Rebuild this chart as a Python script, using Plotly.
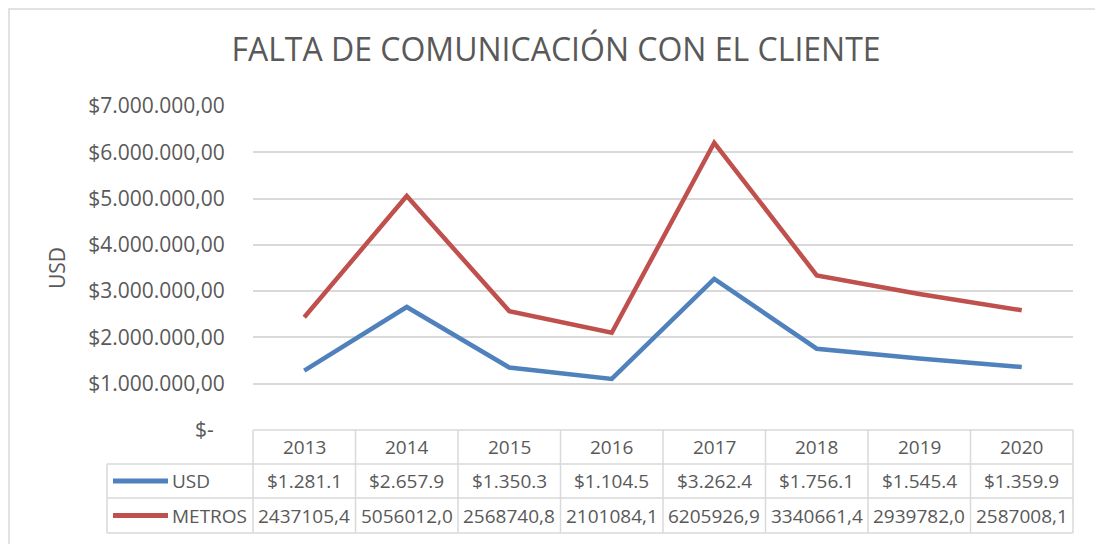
import plotly.graph_objects as go

# ---- data ----
years = ["2013", "2014", "2015", "2016", "2017", "2018", "2019", "2020"]
usd_thousands = [1281.1, 2657.9, 1350.3, 1104.5, 3262.4, 1756.1, 1545.4, 1359.9]
metros = [2437105.4, 5056012.0, 2568740.8, 2101084.1, 6205926.9, 3340661.4, 2939782.0, 2587008.1]
y_ticks = [0, 1e6, 2e6, 3e6, 4e6, 5e6, 6e6, 7e6]
y_tick_labels = ["$-\u00a0\u00a0", "$1.000.000,00", "$2.000.000,00", "$3.000.000,00",
                 "$4.000.000,00", "$5.000.000,00", "$6.000.000,00", "$7.000.000,00"]
series_names = ["USD", "METROS"]
title_text = "FALTA DE COMUNICACIÓN CON EL CLIENTE"
y_title = "USD"

usd_values = [v * 1000 for v in usd_thousands]
usd_labels = ["$" + f"{v:,.1f}".replace(",", ".") for v in usd_thousands]
metros_labels = [f"{v:.1f}".replace(".", ",") for v in metros]

# ---- layout geometry (screen pixels; page body has an 8px offset) ----
W, H = 1103, 544
OFF = 8
L, T = 253, 106          # plot area left / top on screen
PW, PH = 820, 324        # plot area size
BLUE = "#4F81BD"
RED = "#C0504D"
GRID = "#D9D9D9"
TXT = "#595959"
FONT = "Open Sans"

m_l = L - OFF
m_t = T - OFF
m_r = W - m_l - PW
m_b = H - m_t - PH


def px(x):
    return (x - L) / PW


def py(y):
    return (T + PH - y) / PH


fig = go.Figure()
fig.add_trace(go.Scatter(x=years, y=usd_values, mode="lines", name=series_names[0],
                         line=dict(color=BLUE, width=4.5), hoverinfo="skip"))
fig.add_trace(go.Scatter(x=years, y=metros, mode="lines", name=series_names[1],
                         line=dict(color=RED, width=4.5), hoverinfo="skip"))

shapes = []
annotations = []

# outer chart border (kept just inside the figure's drawable area)
shapes.append(dict(type="rect", xref="paper", yref="paper",
                   x0=px(OFF + 1), x1=px(1101), y0=py(570), y1=py(OFF + 1),
                   line=dict(color="#D9D9D9", width=1.5), fillcolor="rgba(0,0,0,0)", layer="below"))

# data table grid
n = len(years)
col_w = PW / n
row_y = [430, 464, 498, 533]
tbl_left = 107
tbl_right = L + PW
line_style = dict(color=GRID, width=1.5)
shapes.append(dict(type="line", xref="paper", yref="paper", x0=px(L), x1=px(tbl_right),
                   y0=py(row_y[0]), y1=py(row_y[0]), line=line_style))
for ry in row_y[1:]:
    shapes.append(dict(type="line", xref="paper", yref="paper", x0=px(tbl_left), x1=px(tbl_right),
                       y0=py(ry), y1=py(ry), line=line_style))
shapes.append(dict(type="line", xref="paper", yref="paper", x0=px(tbl_left), x1=px(tbl_left),
                   y0=py(row_y[1]), y1=py(row_y[3]), line=line_style))
for i in range(n + 1):
    xx = L + i * col_w
    shapes.append(dict(type="line", xref="paper", yref="paper", x0=px(xx), x1=px(xx),
                       y0=py(row_y[0]), y1=py(row_y[3]), line=line_style))

# legend keys in table
for k, (name, color) in enumerate(zip(series_names, [BLUE, RED])):
    yc = (row_y[k + 1] + row_y[k + 2]) / 2
    shapes.append(dict(type="line", xref="paper", yref="paper", x0=px(113), x1=px(168),
                       y0=py(yc), y1=py(yc), line=dict(color=color, width=5)))
    annotations.append(dict(text=name, xref="paper", yref="paper", x=px(170), y=py(yc),
                            xanchor="left", yanchor="middle", showarrow=False,
                            font=dict(family=FONT, size=19, color=TXT)))

# table texts
rows = [years, usd_labels, metros_labels]
for r, labels in enumerate(rows):
    yc = (row_y[r] + row_y[r + 1]) / 2
    for i, lab in enumerate(labels):
        xc = L + (i + 0.5) * col_w
        annotations.append(dict(text=lab, xref="paper", yref="paper", x=px(xc), y=py(yc),
                                xanchor="center", yanchor="middle", showarrow=False,
                                font=dict(family=FONT, size=19, color=TXT)))

# y axis title
annotations.append(dict(text=y_title, xref="paper", yref="paper", x=px(57), y=py(268),
                        xanchor="center", yanchor="middle", textangle=-90, showarrow=False,
                        font=dict(family=FONT, size=21, color=TXT)))

fig.update_layout(
    width=W, height=H,
    margin=dict(l=m_l, r=m_r, t=m_t, b=m_b, pad=0),
    paper_bgcolor="white", plot_bgcolor="white",
    showlegend=False,
    title=dict(text=title_text, x=(556 - OFF) / W, xref="container", xanchor="center",
               y=1 - (50 - OFF) / H, yref="container", yanchor="middle",
               font=dict(family=FONT, size=32, color=TXT)),
    xaxis=dict(type="category", range=[-0.5, n - 0.5], showticklabels=False,
               showgrid=False, zeroline=False, showline=False, fixedrange=True),
    yaxis=dict(range=[0, 7e6], tickvals=y_ticks, ticktext=y_tick_labels,
               showgrid=True, gridcolor=GRID, gridwidth=1.5, zeroline=False, showline=False,
               ticks="outside", ticklen=23, tickcolor="rgba(0,0,0,0)",
               tickfont=dict(family=FONT, size=21, color=TXT), fixedrange=True),
    shapes=shapes,
    annotations=annotations,
    font=dict(family=FONT, color=TXT),
)

fig.write_html("out.html")
